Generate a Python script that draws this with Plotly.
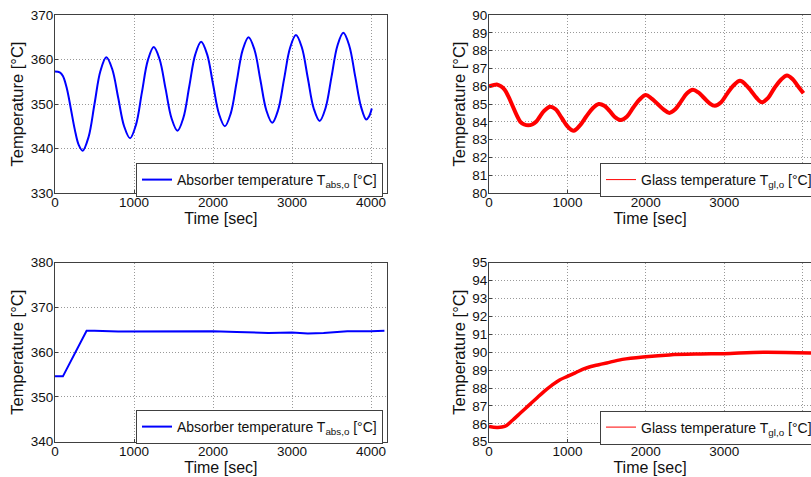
import plotly.graph_objects as go

# ---------------- data ----------------
# Top-left: absorber temperature (oscillating case)
abs1_t = [0, 60, 100, 150, 200, 250, 300, 350, 425, 500, 575, 650, 725, 800, 875, 950,
          1025, 1100, 1175, 1250, 1325, 1400, 1475, 1550, 1625, 1700, 1775, 1850,
          1925, 2000, 2075, 2150, 2225, 2300, 2375, 2450, 2525, 2600, 2675, 2750,
          2825, 2900, 2975, 3050, 3125, 3200, 3275, 3350, 3425, 3500, 3575, 3650,
          3725, 3800, 3875, 3940, 3975, 4010]
abs1_T = [357.3, 357.1, 356.3, 353.5, 349.0, 344.3, 340.8, 339.5, 342.6, 350.0, 357.4, 360.5,
          357.8, 351.4, 345.0, 342.3, 345.3, 352.6, 359.8, 362.8, 360.0, 353.4, 346.8, 344.0,
          346.9, 354.0, 361.1, 364.0, 361.2, 354.5, 347.8, 345.0, 347.9, 355.0, 362.1, 365.0,
          362.2, 355.4, 348.6, 345.8, 348.7, 355.65, 362.6, 365.5, 362.7, 355.85, 349.0, 346.2,
          349.1, 356.1, 363.1, 366.0, 363.1, 356.2, 349.3, 346.5, 347.2, 349.0]

# Top-right: glass temperature (oscillating case)
gl1_t = [0, 50, 100, 150, 200, 250, 300, 350, 400, 450, 500, 550, 600, 650, 700, 780,
         850, 930, 1000, 1080, 1160, 1240, 1320, 1400, 1470, 1540, 1610, 1680,
         1760, 1840, 1920, 2000, 2075, 2150, 2225, 2300, 2375, 2450, 2525, 2600,
         2670, 2740, 2810, 2880, 2960, 3040, 3120, 3200, 3270, 3340, 3410, 3480,
         3560, 3640, 3720, 3800, 3870, 3940, 4010]
gl1_T = [86.0, 86.05, 86.1, 86.0, 85.8, 85.4, 84.9, 84.4, 84.0, 83.85, 83.8, 83.85, 84.0, 84.3, 84.6, 84.85,
         84.7, 84.2, 83.75, 83.5, 83.8, 84.3, 84.75, 85.0, 84.9, 84.6, 84.25, 84.1,
         84.3, 84.8, 85.25, 85.5, 85.3, 85.0, 84.7, 84.5, 84.7, 85.15, 85.6, 85.8,
         85.65, 85.35, 85.05, 84.9, 85.1, 85.6, 86.05, 86.3, 86.1, 85.75, 85.35, 85.1,
         85.35, 85.9, 86.35, 86.6, 86.4, 86.0, 85.6]

# Bottom-left: absorber temperature (step case)
abs2_t = [0, 100, 400, 500, 800, 1000, 1500, 2000, 2300, 2700, 3000, 3200, 3400, 3700, 4000, 4170]
abs2_T = [354.6, 354.6, 364.8, 364.8, 364.6, 364.6, 364.6, 364.7, 364.5, 364.3, 364.4, 364.2, 364.3, 364.7, 364.7, 364.8]

# Bottom-right: glass temperature (step case)
gl2_t = [0, 100, 200, 300, 400, 500, 600, 700, 800, 900, 1000, 1100, 1200, 1300, 1400, 1500,
         1700, 2000, 2300, 2700, 3000, 3500, 4106]
gl2_T = [85.85, 85.8, 85.85, 86.2, 86.6, 87.0, 87.4, 87.8, 88.15, 88.45, 88.65, 88.85, 89.05, 89.2, 89.3, 89.4,
         89.6, 89.75, 89.85, 89.9, 89.92, 90.0, 89.95]

x_ticks = [0, 1000, 2000, 3000, 4000]
abs1_ticks = [330, 340, 350, 360, 370]
gl1_ticks = list(range(80, 91))
abs2_ticks = [340, 350, 360, 370, 380]
gl2_ticks = list(range(85, 96))

abs_name = "Absorber temperature T<sub>abs,o</sub> [°C]"
gl_name = "Glass temperature T<sub>gl,o</sub> [°C]"

# ---------------- figure ----------------
W, H = 811, 477
FONT = "Liberation Sans, Arial, sans-serif"
BLUE = "#0000ff"
RED = "#ff0000"
FRAME = "#404040"
GRID = "#999999"
GRID_DASH = "1px,2px"

fig = go.Figure()

fig.add_trace(go.Scatter(x=abs1_t, y=abs1_T, mode="lines", line=dict(color=BLUE, width=2, shape="spline"),
                         name=abs_name, xaxis="x", yaxis="y", legend="legend"))
fig.add_trace(go.Scatter(x=gl1_t, y=gl1_T, mode="lines", line=dict(color=RED, width=4, shape="spline"),
                         showlegend=False, xaxis="x2", yaxis="y2"))
fig.add_trace(go.Scatter(x=[None], y=[None], mode="lines", line=dict(color=RED, width=1),
                         name=gl_name, xaxis="x2", yaxis="y2", legend="legend2"))
fig.add_trace(go.Scatter(x=abs2_t, y=abs2_T, mode="lines", line=dict(color=BLUE, width=2),
                         name=abs_name, xaxis="x3", yaxis="y3", legend="legend3"))
fig.add_trace(go.Scatter(x=gl2_t, y=gl2_T, mode="lines", line=dict(color=RED, width=3.5, shape="spline"),
                         showlegend=False, xaxis="x4", yaxis="y4"))
fig.add_trace(go.Scatter(x=[None], y=[None], mode="lines", line=dict(color=RED, width=1),
                         name=gl_name, xaxis="x4", yaxis="y4", legend="legend4"))

LX = [55 / W, 386.8 / W]
RX = [489 / W, 1.0]
TY = [1 - 193 / H, 1 - 15 / H]
BY = [1 - 441.7 / H, 1 - 262.7 / H]


def xax(domain, rng, anchor):
    return dict(domain=domain, range=rng, anchor=anchor, tickvals=x_ticks, automargin=False,
                showline=True, linecolor=FRAME, linewidth=1, mirror=True,
                ticks="inside", ticklen=3, tickcolor=FRAME, ticklabelstandoff=-3,
                showgrid=True, gridcolor=GRID, griddash=GRID_DASH, gridwidth=1, zeroline=False,
                tickfont=dict(family=FONT, size=13.5, color="#111"),
                title=dict(text="Time [sec]", font=dict(family=FONT, size=16, color="#111"), standoff=0))


def yax(domain, rng, anchor, ticks, mirror):
    return dict(domain=domain, range=rng, anchor=anchor, tickvals=ticks, automargin=False,
                showline=True, linecolor=FRAME, linewidth=1, mirror=mirror,
                ticks="inside", ticklen=3, tickcolor=FRAME, ticklabelstandoff=-2,
                showgrid=True, gridcolor=GRID, griddash=GRID_DASH, gridwidth=1, zeroline=False,
                tickfont=dict(family=FONT, size=13.5, color="#111"),
                title=dict(text="Temperature [°C]", font=dict(family=FONT, size=16.5, color="#111"), standoff=2))


def leg(x, y):
    return dict(x=x, y=y, xanchor="left", yanchor="top", xref="paper", yref="paper",
                bgcolor="white", bordercolor=FRAME, borderwidth=1,
                font=dict(family=FONT, size=14, color="#111"),
                itemwidth=30, tracegroupgap=0)


fig.update_layout(
    width=W, height=H,
    margin=dict(l=0, r=0, t=0, b=0, autoexpand=False),
    paper_bgcolor="white", plot_bgcolor="white",
    font=dict(family=FONT, size=13, color="#111"),
    xaxis=xax(LX, [0, 4200], "y"),
    yaxis=yax(TY, [330, 370], "x", abs1_ticks, True),
    xaxis2=xax(RX, [0, 4106], "y2"),
    yaxis2=yax(TY, [80, 90], "x2", gl1_ticks, False),
    xaxis3=xax(LX, [0, 4200], "y3"),
    yaxis3=yax(BY, [340, 380], "x3", abs2_ticks, True),
    xaxis4=xax(RX, [0, 4106], "y4"),
    yaxis4=yax(BY, [85, 95], "x4", gl2_ticks, False),
    legend=leg(136 / W, 1 - 163 / H),
    legend2=leg(600 / W, 1 - 163 / H),
    legend3=leg(136 / W, 1 - 410 / H),
    legend4=leg(600 / W, 1 - 410.5 / H),
    showlegend=True,
)

fig.write_html("out.html", config={"displayModeBar": False},
               post_script="document.body.style.margin='0px';")
